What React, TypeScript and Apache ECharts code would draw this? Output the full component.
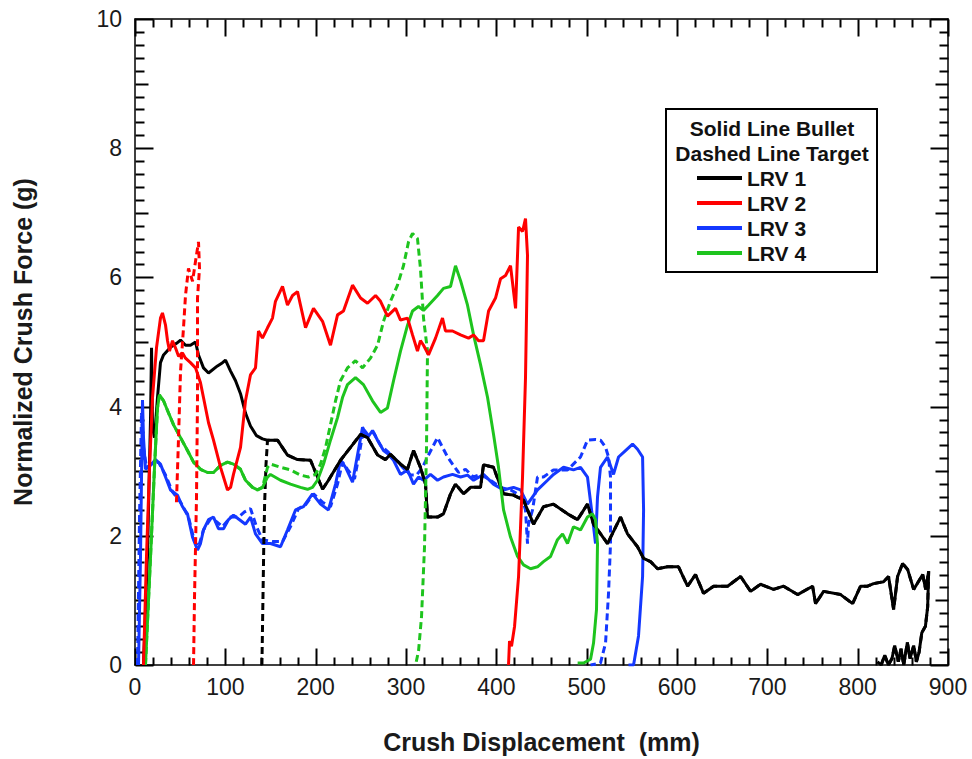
import React, { useEffect, useRef } from "react";
import * as echarts from "echarts";

type Pt = [number, number];

const FONT = '"Liberation Sans", Arial, Helvetica, sans-serif';

const seriesNames = ["LRV 1", "LRV 2", "LRV 3", "LRV 4"];
const seriesColors = ["#000000", "#ff0000", "#1438ff", "#1ec41e"];
const legendTitles = ["Solid Line Bullet", "Dashed Line Target"];

const xTitle = "Crush Displacement  (mm)";
const yTitle = "Normalized Crush Force (g)";

// tick steps
const xMajorStep = 100;
const xMinorStep = 20;
const yMajorStep = 2;
const yMinorStep = 0.2;

// LRV 1 (black)
const lrv1Bullet: Pt[] = [
  [9.4, 0], [13.8, 1.68], [17.2, 3.83], [18.3, 4.91], [19.4, 3.68], [21.6, 3.52], [24.9, 4.14],
  [28.2, 4.68], [31.6, 4.8], [39.3, 4.92], [46, 4.98], [50.4, 5.03], [55.9, 4.95], [61.4, 4.95],
  [67.0, 5.0], [70.3, 4.8], [75.8, 4.6], [81.4, 4.52], [91.3, 4.63], [96.9, 4.68], [100.2, 4.72],
  [105.8, 4.55], [111.3, 4.4], [116.8, 4.2], [122.3, 3.9], [127.8, 3.7], [134.5, 3.55], [141.1, 3.5],
  [146.7, 3.48], [157.8, 3.48], [168.8, 3.25], [179.9, 3.18], [194.3, 3.17], [202.0, 2.91], [207.6, 2.72],
  [214.2, 2.86], [227.5, 3.17], [238.6, 3.37], [249.7, 3.57], [257.4, 3.52], [268.5, 3.25], [277.3, 3.18],
  [282.8, 3.26], [293.9, 3.11], [301.6, 3.03], [308.3, 3.32], [316.0, 3.06], [321.6, 2.8], [323.8, 2.29],
  [334.9, 2.29], [341.5, 2.34], [349.3, 2.65], [354.8, 2.8], [363.7, 2.65], [371.4, 2.75], [382.5, 2.75],
  [385.8, 3.1], [396.8, 3.06], [407.9, 2.65], [419.0, 2.63], [430.1, 2.55], [441.2, 2.18], [452.2, 2.45],
  [463.3, 2.49], [478.8, 2.34], [489.9, 2.25], [500.9, 2.49], [507.6, 2.18], [523.1, 1.88], [537.5, 2.29],
  [545.2, 2.03], [556.3, 1.83], [563.0, 1.65], [570.7, 1.6], [578.5, 1.49], [589.5, 1.52], [601.7, 1.52],
  [611.7, 1.22], [620.5, 1.4], [629.4, 1.11], [640.5, 1.22], [656.0, 1.22], [670.4, 1.37], [681.5, 1.14],
  [692.5, 1.25], [706.9, 1.17], [718.0, 1.22], [733.5, 1.09], [750.1, 1.22], [753.4, 0.95], [762.3, 1.14],
  [781.1, 1.09], [794.4, 0.95], [803.2, 1.22], [811.0, 1.22], [817.6, 1.26], [828.7, 1.29], [834.2, 1.37],
  [839.8, 0.86], [844.2, 1.37], [849.7, 1.57], [855.3, 1.48], [862.0, 1.17], [872.0, 1.4], [875.3, 1.17],
  [878.6, 1.45], [877.5, 0.9], [875, 0.6], [871, 0.5], [868, 0.2], [865, 0.05], [862, 0.3], [858, 0.1],
  [855, 0.35], [851, 0.0], [848, 0.25], [845, 0.05], [841, 0.3], [838, 0.1], [834, 0.0], [830, 0.15],
  [826, 0.0], [822, 0.05],
];
const lrv1TargetRise: Pt[] = [
  [140.5, 0], [141.5, 0.9], [142.5, 1.8], [143.5, 2.5], [145, 3.1],
];
const lrv1Target: Pt[] = lrv1TargetRise.concat(lrv1Bullet.filter((p) => p[0] >= 146));

// LRV 2 (red)
const lrv2Bullet: Pt[] = [
  [9.4, 0], [12.7, 1.68], [16.1, 3.06], [19.4, 4.14], [23.8, 4.91], [28.2, 5.37], [30.4, 5.45],
  [33.8, 5.26], [36.0, 5.02], [38.2, 4.86], [41.5, 5.02], [44.8, 4.91], [48.2, 4.78], [52.6, 4.83],
  [55.9, 4.75], [61.4, 4.68], [67.0, 4.6], [72.5, 4.37], [75.8, 4.14], [81.4, 3.75], [86.9, 3.48],
  [94.7, 3.06], [102.4, 2.71], [105.8, 2.75], [109.0, 2.95], [116.8, 3.37], [122.3, 4.09], [127.8, 4.49],
  [133.4, 4.6], [136.7, 5.17], [141.1, 5.06], [146.7, 5.22], [152.2, 5.37], [155.5, 5.63], [163.3, 5.86],
  [168.8, 5.57], [174.4, 5.72], [179.9, 5.78], [183.2, 5.57], [188.8, 5.22], [197.6, 5.52], [207.6, 5.32],
  [216.4, 4.95], [224.2, 5.42], [230.8, 5.48], [240.8, 5.88], [249.7, 5.68], [257.4, 5.6], [266.3, 5.72],
  [271.8, 5.63], [279.5, 5.4], [288.4, 5.52], [293.9, 5.34], [301.7, 5.37], [307.2, 5.11], [312.7, 4.86],
  [316.0, 5.02], [319.4, 4.95], [324.9, 4.8], [332.7, 5.06], [340.4, 5.37], [343.7, 5.17], [351.5, 5.17],
  [360.4, 5.11], [369.2, 5.06], [374.8, 5.11], [380.3, 5.02], [385.8, 5.02], [391.4, 5.48], [399.1, 5.68],
  [404.7, 5.98], [410.2, 6.03], [415.7, 6.18], [421.3, 5.52], [424.6, 6.78], [429.0, 6.71], [432.3, 6.91],
  [434.5, 6.34], [432.3, 4.45], [429.0, 2.91], [424.6, 1.37], [420.2, 0.6], [416.8, 0.29], [414.6, 0.37],
  [413.5, 0],
];
const lrv2Target: Pt[] = [
  [45.9, 2.52], [48.2, 3.52], [50.4, 4.55], [53.7, 5.22], [55.9, 5.72], [59.2, 6.14], [63.7, 5.94],
  [67.0, 6.25], [70.3, 6.55], [71.4, 6.14], [69.2, 5.68], [69.2, 4.14], [68.1, 2.6], [65.9, 1.06],
  [64.8, 0],
];

// LRV 3 (blue)
const lrv3Bullet: Pt[] = [
  [3.9, 0], [6.1, 1.68], [8.3, 4.1], [9.4, 3.52], [11.6, 3.03], [17.2, 3.09], [22.7, 3.18], [28.2, 3.11],
  [33.8, 2.91], [39.3, 2.71], [47.0, 2.63], [52.6, 2.45], [58.1, 2.34], [63.7, 1.98], [69.2, 1.78],
  [72.5, 1.88], [75.8, 2.09], [81.4, 2.25], [86.9, 2.29], [92.4, 2.11], [98.0, 2.11], [103.5, 2.25],
  [109.0, 2.32], [114.6, 2.26], [122.3, 2.18], [127.9, 2.29], [133.4, 2.03], [141.1, 1.88], [150.0, 1.88],
  [161.1, 1.83], [168.8, 2.09], [177.7, 2.4], [186.5, 2.45], [196.5, 2.65], [205.4, 2.49], [214.2, 2.4],
  [222.0, 2.8], [227.5, 3.17], [233.1, 3.06], [240.8, 2.83], [246.4, 3.26], [251.9, 3.68], [257.4, 3.52],
  [263.0, 3.63], [268.5, 3.48], [275.1, 3.32], [280.7, 3.26], [286.2, 3.17], [293.9, 2.95], [301.7, 3.02],
  [308.3, 2.8], [313.8, 2.91], [319.4, 2.86], [327.1, 2.95], [334.9, 2.86], [341.5, 2.91], [351.5, 2.95],
  [360.4, 2.91], [368.1, 2.94], [374.8, 2.86], [385.8, 2.95], [396.8, 2.8], [407.9, 2.71], [419.0, 2.75],
  [426.8, 2.71], [434.5, 2.49], [445.6, 2.71], [456.7, 2.86], [463.3, 2.95], [474.4, 3.06], [485.4, 3.02],
  [493.2, 3.06], [500.9, 2.91], [506.4, 2.29], [509.8, 1.88], [512.0, 2.6], [515.3, 3.06], [523.1, 3.22],
  [529.7, 2.95], [535.3, 3.22], [543.0, 3.32], [550.8, 3.42], [556.3, 3.34], [561.9, 3.22], [563.0, 2.4],
  [561.9, 1.37], [557.4, 0.45], [551.9, 0], [546.3, 0],
];
const lrv3Target: Pt[] = [
  [2.8, 0], [5.0, 2.29], [7.2, 3.91], [9.4, 3.37], [12.7, 3.06], [19.4, 3.12], [26.0, 3.14], [33.8, 2.94],
  [41.5, 2.68], [50.4, 2.52], [59.2, 2.29], [65.9, 1.91], [70.3, 1.83], [75.8, 2.09], [83.6, 2.26],
  [90.2, 2.22], [96.9, 2.14], [105.7, 2.29], [114.6, 2.29], [121.2, 2.37], [127.9, 2.42], [134.5, 2.14],
  [141.1, 1.94], [152.2, 1.91], [163.3, 1.91], [172.1, 2.14], [181.0, 2.42], [188.8, 2.48], [197.6, 2.65],
  [207.6, 2.52], [216.4, 2.45], [224.2, 2.8], [229.7, 3.14], [235.2, 3.03], [243.0, 2.88], [248.5, 3.29],
  [253.0, 3.65], [258.5, 3.55], [264.0, 3.6], [271.8, 3.4], [280.7, 3.29], [288.4, 3.18], [296.2, 3.06],
  [305.0, 2.94], [311.6, 2.94], [318.3, 3.06], [323.8, 3.22], [329.3, 3.37], [334.9, 3.52], [340.4, 3.37],
  [346.0, 3.22], [351.5, 3.11], [358.1, 2.98], [365.9, 3.03], [374.7, 2.91], [382.5, 2.95], [391.3, 2.88],
  [404.6, 2.75], [415.7, 2.71], [423.5, 2.65], [429.0, 2.55], [432.3, 2.4], [434.5, 1.88], [435.6, 2.18],
  [440.1, 2.4], [445.6, 2.91], [452.2, 2.91], [463.3, 3.02], [478.8, 3.02], [493.2, 3.22], [500.9, 3.48],
  [509.8, 3.49], [515.3, 3.48], [520.9, 3.37], [524.2, 3.22], [526.4, 2.91], [526.4, 1.88], [524.2, 1.11],
  [520.9, 0.34], [515.3, 0.03], [504.3, 0],
];

// LRV 4 (green)
const lrv4Bullet: Pt[] = [
  [11.6, 0], [17.2, 1.68], [21.6, 3.06], [24.9, 3.98], [27.1, 4.18], [31.6, 4.09], [36.0, 3.94],
  [42.6, 3.72], [50.4, 3.52], [58.1, 3.32], [64.8, 3.14], [72.5, 3.03], [80.3, 2.98], [86.9, 2.98],
  [94.7, 3.09], [102.4, 3.14], [109.0, 3.11], [116.8, 3.03], [122.3, 2.86], [130.1, 2.75], [135.6, 2.71],
  [141.1, 2.75], [146.7, 2.91], [150.0, 2.95], [161.1, 2.86], [172.1, 2.8], [183.2, 2.75], [191.0, 2.72],
  [196.5, 2.75], [202.0, 2.86], [208.7, 3.11], [216.4, 3.48], [224.2, 3.83], [229.7, 4.14], [235.2, 4.34],
  [244.1, 4.45], [252.9, 4.34], [262.9, 4.09], [271.8, 3.91], [279.5, 3.98], [286.2, 4.4], [293.9, 4.86],
  [301.7, 5.26], [307.2, 5.48], [313.8, 5.55], [319.4, 5.49], [324.9, 5.57], [334.9, 5.72], [341.5, 5.83],
  [349.3, 5.86], [354.8, 6.18], [360.4, 5.95], [368.1, 5.57], [374.8, 5.11], [382.5, 4.65], [390.3, 4.14],
  [396.9, 3.57], [402.4, 3.06], [408.0, 2.4], [415.7, 1.98], [423.5, 1.68], [430.1, 1.55], [437.9, 1.49],
  [445.6, 1.52], [452.2, 1.6], [460.0, 1.68], [467.7, 1.94], [473.3, 2.03], [478.8, 1.88], [485.4, 2.14],
  [493.2, 2.09], [500.9, 2.29], [506.4, 2.34], [509.8, 2.25], [512.0, 1.88], [510.9, 0.86], [507.6, 0.34],
  [504.3, 0.09], [496.6, 0.03], [490.0, 0.03],
];
const lrv4TargetTail: Pt[] = [
  [146.7, 3.06], [150.0, 3.11], [161.1, 3.06], [172.1, 3.02], [183.2, 2.94], [192.1, 2.91], [199.8, 2.95],
  [205.4, 3.11], [211.0, 3.37], [216.4, 3.72], [222.0, 4.09], [227.5, 4.4], [235.2, 4.6], [244.1, 4.71],
  [251.9, 4.6], [260.7, 4.75], [268.5, 4.95], [275.1, 5.32], [282.8, 5.63], [290.6, 5.88], [297.2, 6.18],
  [302.8, 6.55], [307.2, 6.68], [312.7, 6.6], [316.0, 6.14], [319.4, 5.37], [323.8, 4.86], [322.7, 3.37],
  [320.5, 1.83], [317.2, 0.75], [313.9, 0.22], [310.6, 0],
];
const lrv4Target: Pt[] = lrv4Bullet.filter((p) => p[0] <= 141.1).concat(lrv4TargetTail);

const bullets = [lrv1Bullet, lrv2Bullet, lrv3Bullet, lrv4Bullet];
const targets = [lrv1Target, lrv2Target, lrv3Target, lrv4Target];
const drawOrder = [2, 0, 3, 1];

export default function App() {
  const ref = useRef<HTMLDivElement>(null);

  useEffect(() => {
    if (!ref.current) return;
    const chart = echarts.init(ref.current, undefined, { renderer: "svg" });
    const black = "#000";
    const tickStyle = { color: black, width: 1.5 };

    const series: any[] = [];
    drawOrder.forEach((i, k) => {
      series.push({
        type: "line",
        name: seriesNames[i] + " Target",
        data: targets[i],
        showSymbol: false,
        symbol: "none",
        lineStyle: { color: seriesColors[i], width: 3, type: [7, 4] },
        z: 2 + k,
      });
      series.push({
        type: "line",
        name: seriesNames[i] + " Bullet",
        data: bullets[i],
        showSymbol: false,
        symbol: "none",
        lineStyle: { color: seriesColors[i], width: 3, type: "solid" },
        z: 2 + k,
      });
    });

    const legendGraphic: any[] = [
      {
        type: "rect",
        shape: { x: 666, y: 109, width: 211, height: 163 },
        style: { fill: "#fff", stroke: black, lineWidth: 2 },
        z: 50,
      },
    ];
    legendTitles.forEach((t, i) => {
      legendGraphic.push({
        type: "text",
        x: 772,
        y: 128 + i * 25,
        z: 51,
        style: {
          text: t,
          fill: "#111",
          font: `bold 21px ${FONT}`,
          align: "center",
          verticalAlign: "middle",
        },
      });
    });
    seriesNames.forEach((n, i) => {
      const y = 178 + i * 25;
      legendGraphic.push({
        type: "line",
        shape: { x1: 697, y1: y, x2: 742, y2: y },
        style: { stroke: seriesColors[i], lineWidth: 4 },
        z: 51,
      });
      legendGraphic.push({
        type: "text",
        x: 747,
        y,
        z: 51,
        style: {
          text: n,
          fill: "#111",
          font: `bold 21px ${FONT}`,
          align: "left",
          verticalAlign: "middle",
        },
      });
    });

    const xBase = {
      type: "value",
      min: 0,
      max: 900,
      interval: xMajorStep,
      axisLine: { show: true, onZero: false, lineStyle: tickStyle },
      axisTick: { show: false },
      splitLine: { show: false },
    };
    const yBase = {
      type: "value",
      min: 0,
      max: 10,
      interval: yMajorStep,
      axisLine: { show: true, onZero: false, lineStyle: tickStyle },
      axisTick: { show: false },
      splitLine: { show: false },
    };

    chart.setOption({
      animation: false,
      backgroundColor: "#fff",
      grid: { left: 135, right: 24, top: 19, bottom: 90, containLabel: false },
      xAxis: [
        {
          ...xBase,
          position: "bottom",
          axisLabel: { fontSize: 23, color: "#1a1a1a", margin: 10, fontFamily: FONT },
          name: xTitle,
          nameLocation: "middle",
          nameGap: 64,
          nameTextStyle: { fontSize: 25, fontWeight: "bold", color: "#1a1a1a", fontFamily: FONT },
        },
        { ...xBase, position: "top", axisLabel: { show: false } },
      ],
      yAxis: [
        {
          ...yBase,
          position: "left",
          axisLabel: { fontSize: 23, color: "#1a1a1a", margin: 13, fontFamily: FONT },
          name: yTitle,
          nameLocation: "middle",
          nameGap: 100,
          nameTextStyle: { fontSize: 25, fontWeight: "bold", color: "#1a1a1a", fontFamily: FONT },
        },
        { ...yBase, position: "right", axisLabel: { show: false } },
      ],
      series,
    });

    // inward tick marks on all four sides, positioned through the chart's own scales
    const finder = { xAxisIndex: 0, yAxisIndex: 0 };
    const px = (x: number, y: number) => {
      const p = chart.convertToPixel(finder, [x, y]) as number[];
      return [Math.round(p[0]) + 0.5, Math.round(p[1]) + 0.5];
    };
    const tickPoints: number[][] = [];
    const seg = (x1: number, y1: number, x2: number, y2: number) => {
      tickPoints.push([x1, y1], [x2, y2]);
    };
    for (let k = 0; k <= 900 / xMinorStep; k++) {
      const v = k * xMinorStep;
      const len = v % xMajorStep === 0 ? 17 : 8;
      const b = px(v, 0);
      const t = px(v, 10);
      seg(b[0], b[1], b[0], b[1] - len);
      seg(t[0], t[1], t[0], t[1] + len);
    }
    for (let k = 0; k <= Math.round(10 / yMinorStep); k++) {
      const v = Math.round(k * yMinorStep * 10) / 10;
      const len = k % 10 === 0 ? 18 : k % 5 === 0 ? 13 : 9;
      const l = px(0, v);
      const r = px(900, v);
      seg(l[0], l[1], l[0] + len, l[1]);
      seg(r[0], r[1], r[0] - len, r[1]);
    }
    const tickChildren: any[] = [];
    for (let i = 0; i < tickPoints.length; i += 2) {
      tickChildren.push({
        type: "line",
        shape: {
          x1: tickPoints[i][0],
          y1: tickPoints[i][1],
          x2: tickPoints[i + 1][0],
          y2: tickPoints[i + 1][1],
        },
        style: { stroke: black, lineWidth: 2 },
        silent: true,
      });
    }
    chart.setOption({
      graphic: [
        { type: "group", id: "ticks", z: 40, children: tickChildren },
        { type: "group", id: "legend", z: 50, children: legendGraphic },
      ],
    });

    return () => chart.dispose();
  }, []);

  return (
    <div
      ref={ref}
      style={{ position: "fixed", left: 0, top: 0, width: 972, height: 759, background: "#fff" }}
    />
  );
}
